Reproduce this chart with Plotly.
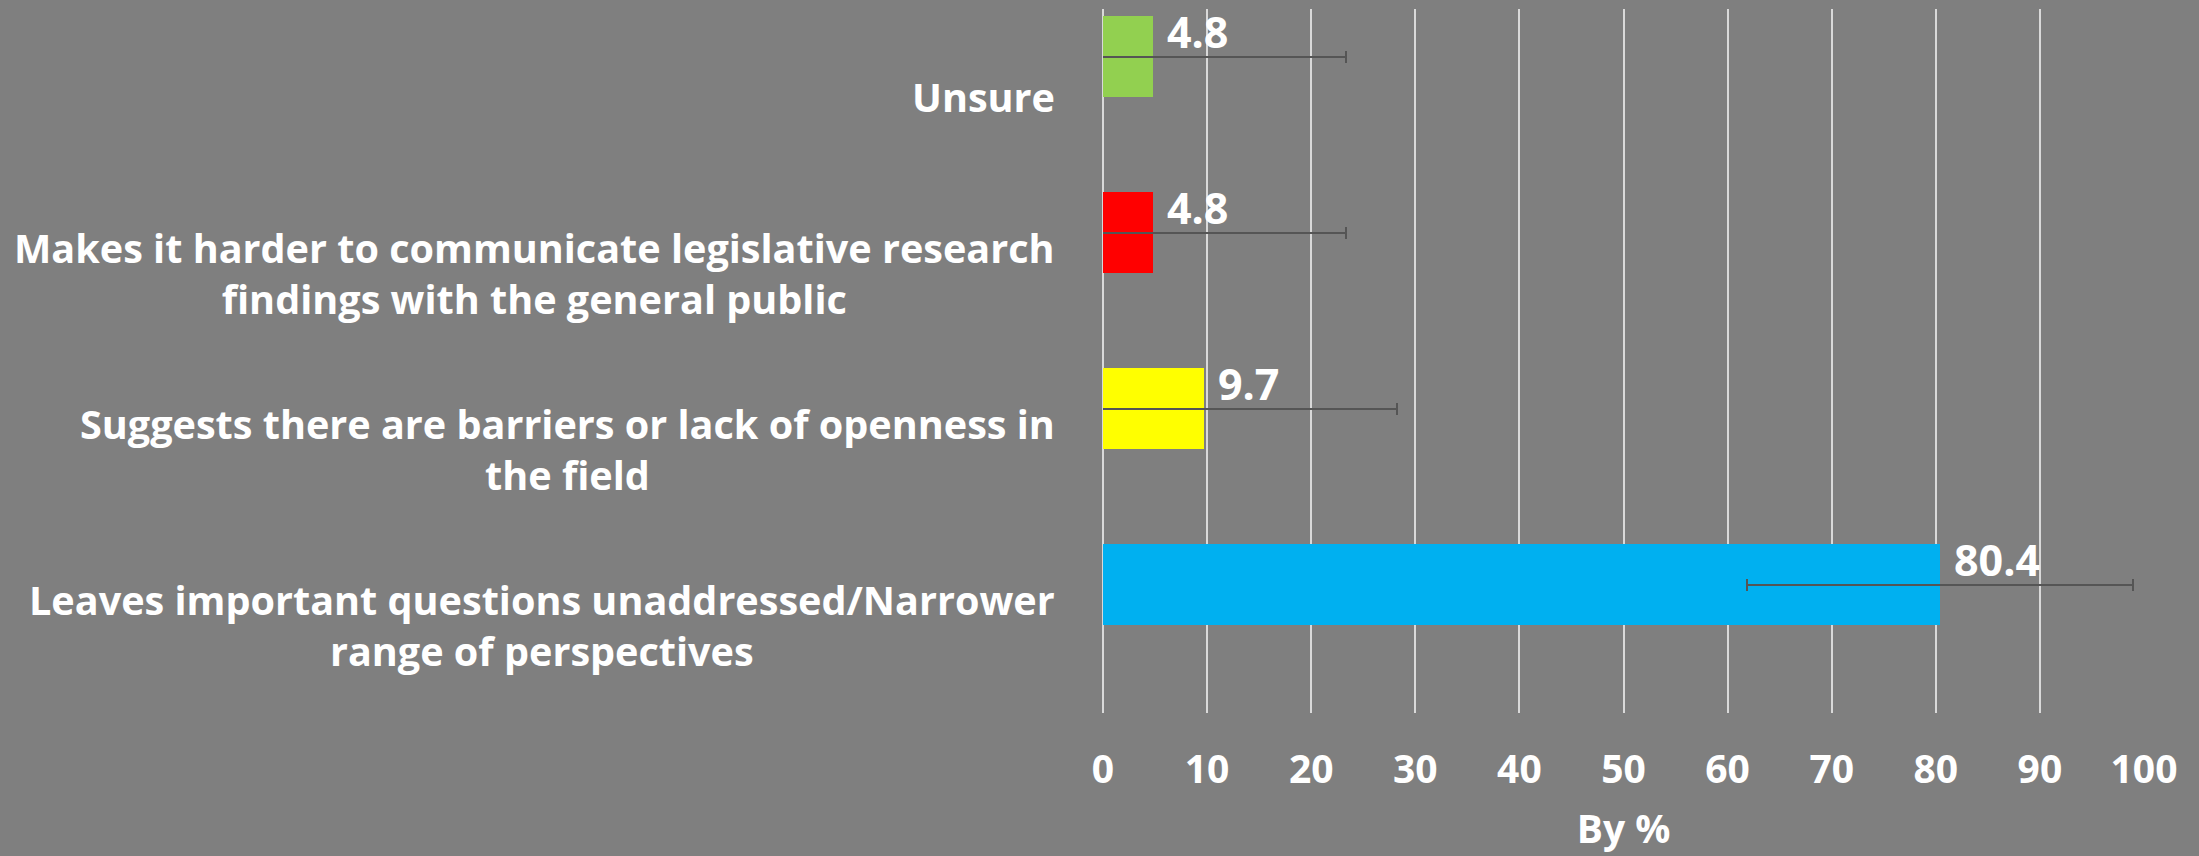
import plotly.graph_objects as go

# categories listed bottom -> top (plotly draws the first category at the bottom)
categories = [
    "Leaves important questions unaddressed/Narrower<br>range of perspectives",
    "Suggests there are barriers or lack of openness in<br>the field",
    "Makes it harder to communicate legislative research<br>findings with the general public",
    "Unsure",
]
values = [80.4, 9.7, 4.8, 4.8]
errors = [18.5, 18.5, 18.5, 18.5]
bar_colors = ["#00b0f0", "#ffff00", "#ff0000", "#92d050"]
x_ticks = [0, 10, 20, 30, 40, 50, 60, 70, 80, 90, 100]

BG = "#7f7f7f"
FONT = "'Open Sans', Lato, sans-serif"

fig = go.Figure()
fig.add_trace(go.Bar(
    x=values,
    y=categories,
    orientation="h",
    marker=dict(color=bar_colors, line=dict(width=0)),
    width=0.46,
    offset=0,
    error_x=dict(type="data", array=errors, visible=True,
                 color="#555555", thickness=2, width=6),
    hoverinfo="skip",
    showlegend=False,
))

# data labels, just right of each bar end, raised above bar centre
for cat, val in zip(categories, values):
    fig.add_annotation(
        x=val, y=cat, xref="x", yref="y",
        text=f"<b>{val}</b>", showarrow=False,
        xanchor="left", yanchor="middle", xshift=12, yshift=66,
        font=dict(family=FONT, size=43, color="white"),
    )

# category labels: centred lines, block right-aligned against the plot
for cat in categories:
    fig.add_annotation(
        x=0, y=cat, xref="paper", yref="y",
        text=f"<b>{cat}</b>", showarrow=False,
        xanchor="right", yanchor="middle", align="center", xshift=-46,
        font=dict(family=FONT, size=39.6, color="white"),
    )

fig.update_layout(
    width=2199, height=856,
    paper_bgcolor=BG, plot_bgcolor=BG,
    margin=dict(l=1103, r=55, t=9, b=143),
    font=dict(family=FONT, color="white"),
    bargap=0,
)
fig.update_xaxes(
    range=[0, 100], tickvals=x_ticks, ticktext=[str(t) for t in x_ticks],
    showgrid=True, gridcolor="#d9d9d9", gridwidth=2,
    zeroline=True, zerolinecolor="#d9d9d9", zerolinewidth=2,
    showline=False, ticks="",
    ticklabelstandoff=30,
    tickfont=dict(family=FONT, size=39, color="white", weight="bold"),
    title=dict(text="By %", standoff=22,
               font=dict(family=FONT, size=39, color="white", weight="bold")),
)
fig.update_yaxes(
    showticklabels=False, showgrid=False, zeroline=False, ticks="",
    categoryorder="array", categoryarray=categories,
    range=[-0.5, 3.5],
)

fig.write_html("out.html", config={"displayModeBar": False},
               post_script="document.body.style.margin='0';")
